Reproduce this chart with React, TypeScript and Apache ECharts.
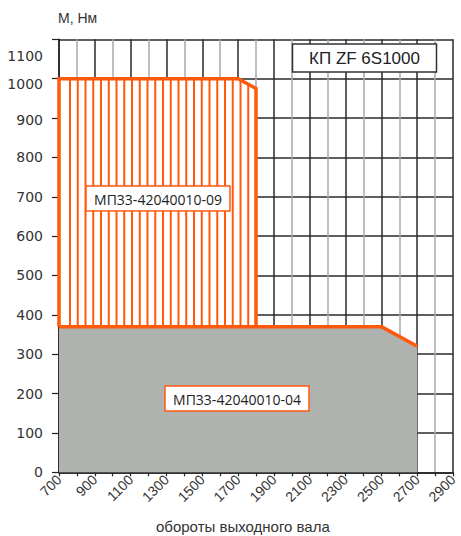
import React, { useEffect, useRef } from "react";
import * as echarts from "echarts";

// Gray (base) envelope: speed, torque
const baseEnvelope: [number, number][] = [
  [700, 370],
  [2500, 370],
  [2700, 320],
];
// Hatched (extended) envelope top edge
const hatchTop: [number, number][] = [
  [700, 1000],
  [1700, 1000],
  [1800, 975],
];
const hatchBase = 370;

const xTickLabels = [700, 900, 1100, 1300, 1500, 1700, 1900, 2100, 2300, 2500, 2700, 2900];
const yTickLabels = [0, 100, 200, 300, 400, 500, 600, 700, 800, 900, 1000, 1100];

const labelHatch = "МП33-42040010-09";
const labelBase = "МП33-42040010-04";
const boxTitle = "КП ZF 6S1000";
const yName = "М, Нм";
const xName = "обороты выходного вала";

const ORANGE = "#ff5a0c";
const GRAY = "#b0b2b0";

function box(left: number, top: number, w: number, h: number, text: string, font: string, stroke: string) {
  return [
    {
      type: "rect",
      z: 100,
      shape: { x: left, y: top, width: w, height: h },
      style: { fill: "#fff", stroke, lineWidth: 1.5 },
    },
    {
      type: "text",
      z: 101,
      x: left + w / 2,
      y: top + h / 2 + 0.5,
      style: { text, font, fill: "#222", textAlign: "center", textVerticalAlign: "middle" },
    },
  ];
}

export default function App() {
  const ref = useRef<HTMLDivElement>(null);
  useEffect(() => {
    if (!ref.current) return;
    const chart = echarts.init(ref.current, undefined, { renderer: "svg" });
    const yFont = { fontSize: 14, fontFamily: "DejaVu Sans", color: "#333" };
    chart.setOption({
      animation: false,
      grid: { left: 59, right: 8, top: 39.3, bottom: 63.7, containLabel: false },
      xAxis: {
        type: "value",
        min: 700,
        max: 2900,
        interval: 100,
        axisLine: { show: true, lineStyle: { color: "#222", width: 1.5 } },
        axisTick: { show: true, length: 4, lineStyle: { color: "#222", width: 1.2 } },
        axisLabel: {
          rotate: 45,
          margin: 5,
          fontSize: 14,
          fontFamily: "Liberation Sans",
          color: "#333",
          formatter: (v: number) => (xTickLabels.includes(v) ? String(v) : ""),
        },
        splitLine: {
          show: true,
          lineStyle: { color: ["#2a2a2a", "#a8a8a8"], width: 1.5 },
        },
      },
      yAxis: {
        type: "value",
        min: 0,
        max: 1100,
        interval: 100,
        axisLine: { show: true, lineStyle: { color: "#222", width: 1.5 } },
        axisTick: { show: true, length: 7, lineStyle: { color: "#222", width: 1.2 } },
        axisLabel: {
          margin: 16,
          formatter: (v: number) => {
            if (!yTickLabels.includes(v)) return "";
            if (v === 1100) return "{a|" + v + "}";
            if (v === 1000) return "{b|" + v + "}";
            if (v === 900) return "{c|" + v + "}";
            return "{n|" + v + "}";
          },
          rich: {
            n: { ...yFont },
            a: { ...yFont, padding: [33, 0, 0, 0] },
            b: { ...yFont, padding: [11, 0, 0, 0] },
            c: { ...yFont, padding: [4, 0, 0, 0] },
          },
        },
        splitLine: { show: true, lineStyle: { color: "#2a2a2a", width: 1.5 } },
      },
      series: [
        {
          type: "custom",
          coordinateSystem: "cartesian2d",
          z: 2,
          clip: false,
          data: [[hatchTop[0][0], hatchTop[0][1]]],
          renderItem: (_params: any, api: any) => {
            const top = hatchTop.map((p) => api.coord(p));
            const bl = api.coord([hatchTop[0][0], hatchBase]);
            const br = api.coord([hatchTop[hatchTop.length - 1][0], hatchBase]);
            const poly = [bl, ...top, br];
            const yAt = (px: number) => {
              for (let i = 0; i < top.length - 1; i++) {
                const a = top[i], b = top[i + 1];
                if (px >= a[0] && px <= b[0]) {
                  const t = (px - a[0]) / (b[0] - a[0] || 1);
                  return a[1] + t * (b[1] - a[1]);
                }
              }
              return top[top.length - 1][1];
            };
            const children: any[] = [
              { type: "polygon", shape: { points: poly }, style: { fill: "#fff", stroke: "none" } },
            ];
            const step = 7.75;
            for (let px = bl[0] + 11; px < br[0] - 4; px += step) {
              children.push({
                type: "line",
                shape: { x1: px, y1: yAt(px), x2: px, y2: bl[1] },
                style: { stroke: ORANGE, lineWidth: 2 },
              });
            }
            children.push({
              type: "polyline",
              shape: { points: poly },
              style: { stroke: ORANGE, lineWidth: 3.5, fill: "none", lineJoin: "miter" },
            });
            return { type: "group", children };
          },
        },
        {
          type: "line",
          z: 3,
          data: baseEnvelope,
          symbol: "none",
          lineStyle: { color: ORANGE, width: 3.5 },
          areaStyle: { color: GRAY, opacity: 1 },
        },
      ],
      graphic: [
        {
          type: "text",
          z: 100,
          x: 58,
          y: 11,
          style: { text: yName, font: "14px 'Liberation Sans'", fill: "#333" },
        },
        {
          type: "text",
          z: 100,
          x: 156,
          y: 519,
          style: { text: xName, font: "15px 'Liberation Sans'", fill: "#333" },
        },
        ...box(292.5, 44, 144, 28, boxTitle, "17px 'Liberation Sans'", "#333"),
        ...box(86, 186, 144, 25, labelHatch, "14px 'Open Sans'", ORANGE),
        ...box(165, 386, 144, 25, labelBase, "14px 'Open Sans'", ORANGE),
      ],
    });
    return () => chart.dispose();
  }, []);
  return (
    <div
      ref={ref}
      style={{ position: "fixed", left: 0, top: 0, width: 461, height: 536, background: "#fff" }}
    />
  );
}
